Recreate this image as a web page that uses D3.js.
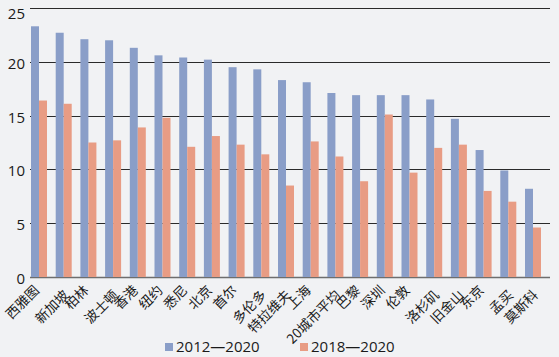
<!DOCTYPE html>
<html><head><meta charset="utf-8">
<script src="https://cdn.jsdelivr.net/npm/d3@7"></script>
<style>
html,body{margin:0;padding:0;background:#f1f2f4;}
svg{display:block;}
</style></head>
<body>
<svg id="chart" width="559" height="357"></svg>
<script>
const categories = ["西雅图","新加坡","柏林","波士顿","香港","纽约","悉尼","北京","首尔","多伦多","特拉维夫","上海","20城市平均","巴黎","深圳","伦敦","洛杉矶","旧金山","东京","孟买","莫斯科"];
const series2012 = [23.3,22.7,22.1,22.0,21.3,20.6,20.4,20.2,19.5,19.3,18.3,18.1,17.1,16.9,16.9,16.9,16.5,14.7,11.8,9.9,8.2];
const series2018 = [16.4,16.1,12.5,12.7,13.9,14.8,12.1,13.1,12.3,11.4,8.5,12.6,11.2,8.9,15.1,9.7,12.0,12.3,8.0,7.0,4.6];
const labelShift = [0,1,0,1,0,0,0,0,0,1,1,0,1,0,0,0,1,1,0,1,1];
const seriesNames = ["2012—2020","2018—2020"];
const yTicks = [0,5,10,15,20,25];
const colors = ["#8a9ec8","#e89c84"];

const svg = d3.select("#chart");
const x = d3.scaleBand().domain(categories).range([26.65,545.35]).paddingInner(0).paddingOuter(0);
const y = d3.scaleLinear().domain([0,25]).range([277,8]);
const barW = 8;

// gridlines
svg.append("g").selectAll("line").data(yTicks).join("line")
  .attr("x1",30).attr("x2",550)
  .attr("y1",d=>Math.round(y(d))+0.5).attr("y2",d=>Math.round(y(d))+0.5)
  .attr("stroke",d=>d===0?"#6e6e6e":"#2a2a2a").attr("stroke-width",d=>d===0?1.6:1);

// y tick labels (top label kept inside the picture)
svg.append("g").selectAll("text").data(yTicks).join("text")
  .attr("x",25).attr("y",d=>Math.max(y(d)+1.5,14)).attr("dy","0.36em")
  .attr("text-anchor","end")
  .attr("font-family","'Open Sans', sans-serif").attr("font-size",15)
  .attr("fill","#1a1a1a").text(d=>d);

// bars
const groups = [series2012, series2018];
groups.forEach((vals,si)=>{
  svg.append("g").selectAll("rect").data(vals).join("rect")
    .attr("x",(d,i)=>x(categories[i])+x.bandwidth()/2 - barW + si*barW)
    .attr("width",barW)
    .attr("y",d=>y(d))
    .attr("height",d=>y(0)-y(d))
    .attr("fill",colors[si]);
});

// x labels
svg.append("g").selectAll("text").data(categories).join("text")
  .attr("transform",(d)=>`translate(${x(d)+x.bandwidth()/2-7},283) rotate(-45)`)
  .attr("text-anchor","end")
  .attr("dy",(d,i)=>labelShift[i]?"1.35em":"0.85em")
  .attr("font-family","'Noto Sans CJK SC', sans-serif").attr("font-size",13.5)
  .attr("fill","#1a1a1a").text(d=>d);

// legend
const legend = svg.append("g");
const lx = [165,300];
seriesNames.forEach((n,i)=>{
  legend.append("rect").attr("x",lx[i]).attr("y",343).attr("width",8).attr("height",8).attr("fill",colors[i]);
  legend.append("text").attr("x",lx[i]+11).attr("y",347).attr("dy","0.36em")
    .attr("font-family","'Open Sans', sans-serif").attr("font-size",15)
    .attr("fill","#1a1a1a").text(n);
});
</script>
</body></html>
